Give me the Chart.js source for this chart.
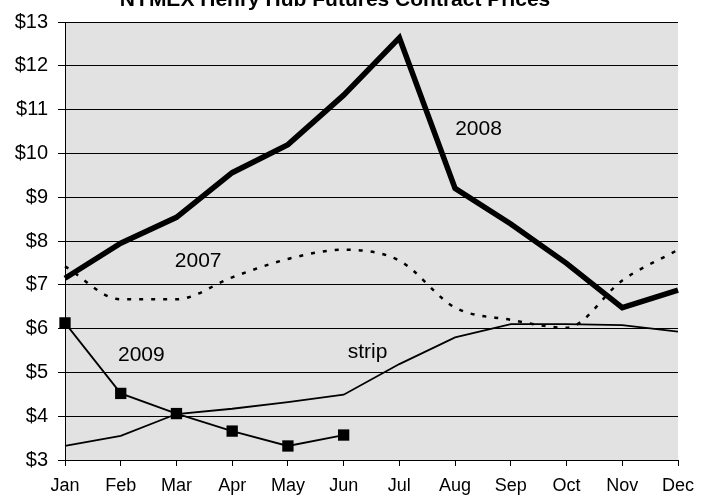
<!DOCTYPE html>
<html><head><meta charset="utf-8">
<script src="https://cdn.jsdelivr.net/npm/chart.js@4"></script>
<style>html,body{margin:0;padding:0;background:#fff}#wrap{width:707px;height:496px}</style>
</head><body><div id="wrap"><canvas id="c" width="707" height="496"></canvas></div>
<script>
const months = ['Jan','Feb','Mar','Apr','May','Jun','Jul','Aug','Sep','Oct','Nov','Dec'];
const yMin = 3, yMax = 13;
const prices2008 = [7.15, 7.95, 8.54, 9.56, 10.2, 11.33, 12.64, 9.2, 8.39, 7.49, 6.48, 6.88];
const prices2007 = [7.42, 6.67, 6.67, 7.17, 7.59, 7.8, 7.55, 6.48, 6.2, 6.02, 7.1, 7.8];
const prices2009 = [6.13, 4.52, 4.06, 3.66, 3.32, 3.57];
const stripPrices = [3.32, 3.55, 4.05, 4.17, 4.32, 4.49, 5.19, 5.8, 6.1, 6.1, 6.08, 5.93];
const titleText = 'NYMEX Henry Hub Futures Contract Prices';
const seriesNames = ['2008', '2007', '2009', 'strip'];
const nameAnchors = [[7.42, 10.56], [2.39, 7.54], [1.37, 5.4], [5.43, 5.45]];

const FONT = '"Liberation Sans", Arial, sans-serif';

const bgPlugin = {
  id: 'bg',
  beforeDraw(chart) {
    const {ctx, chartArea: a} = chart;
    ctx.save();
    ctx.fillStyle = '#e2e2e2';
    ctx.fillRect(a.left, a.top, a.right - a.left, a.bottom - a.top);
    ctx.restore();
  },
  afterDraw(chart) {
    const ctx = chart.ctx;
    ctx.save();
    ctx.fillStyle = '#000';
    ctx.font = 'bold 21px ' + FONT;
    ctx.textAlign = 'center';
    ctx.textBaseline = 'alphabetic';
    ctx.fillText(titleText, 335, 6);
    ctx.restore();
  },
  afterDatasetsDraw(chart) {
    const ctx = chart.ctx;
    const xs = chart.scales.x, ys = chart.scales.y;
    ctx.save();
    ctx.fillStyle = '#000';
    ctx.font = '21px ' + FONT;
    ctx.textAlign = 'center';
    ctx.textBaseline = 'middle';
    seriesNames.forEach((n, i) => {
      ctx.fillText(n, xs.getPixelForValue(nameAnchors[i][0]), ys.getPixelForValue(nameAnchors[i][1]));
    });
    ctx.restore();
  }
};

new Chart(document.getElementById('c'), {
  type: 'line',
  data: {
    labels: months,
    datasets: [
      {label: '2008', data: prices2008, borderColor: '#000', borderWidth: 5.5, pointRadius: 0, tension: 0, borderJoinStyle: 'miter', borderCapStyle: 'butt'},
      {label: '2009', data: prices2009, borderColor: '#000', borderWidth: 1.8, pointStyle: 'rect', pointRadius: 8, pointBackgroundColor: '#000', pointBorderColor: '#000', pointBorderWidth: 0, tension: 0},
      {label: 'strip', data: stripPrices, borderColor: '#000', borderWidth: 1.8, pointRadius: 0, tension: 0},
      {label: '2007', data: prices2007, borderColor: '#000', borderWidth: 2.5, borderDash: [4, 8], pointRadius: 0, cubicInterpolationMode: 'monotone'}
    ]
  },
  options: {
    responsive: false,
    animation: false,
    devicePixelRatio: 1,
    layout: {padding: {top: 18, right: 29, left: 0, bottom: 0}},
    plugins: {legend: {display: false}, title: {display: false}, tooltip: {enabled: false}},
    scales: {
      x: {
        type: 'category',
        offset: false,
        grid: {display: true, drawOnChartArea: false, drawTicks: true, tickLength: 6, color: '#000', lineWidth: 1},
        border: {display: true, color: '#000', width: 1},
        ticks: {color: '#000', font: {family: FONT, size: 18}, padding: 9, maxRotation: 0, autoSkip: false},
        afterFit(s) { s.height = 36; }
      },
      y: {
        min: yMin, max: yMax,
        grid: {color: '#000', lineWidth: 1, tickLength: 7, drawTicks: true},
        border: {display: true, color: '#000', width: 1},
        ticks: {stepSize: 1, color: '#000', font: {family: FONT, size: 20}, padding: 10, callback: v => '$' + v},
        afterFit(s) { s.width = 65; }
      }
    }
  },
  plugins: [bgPlugin]
});
</script>
</body></html>
